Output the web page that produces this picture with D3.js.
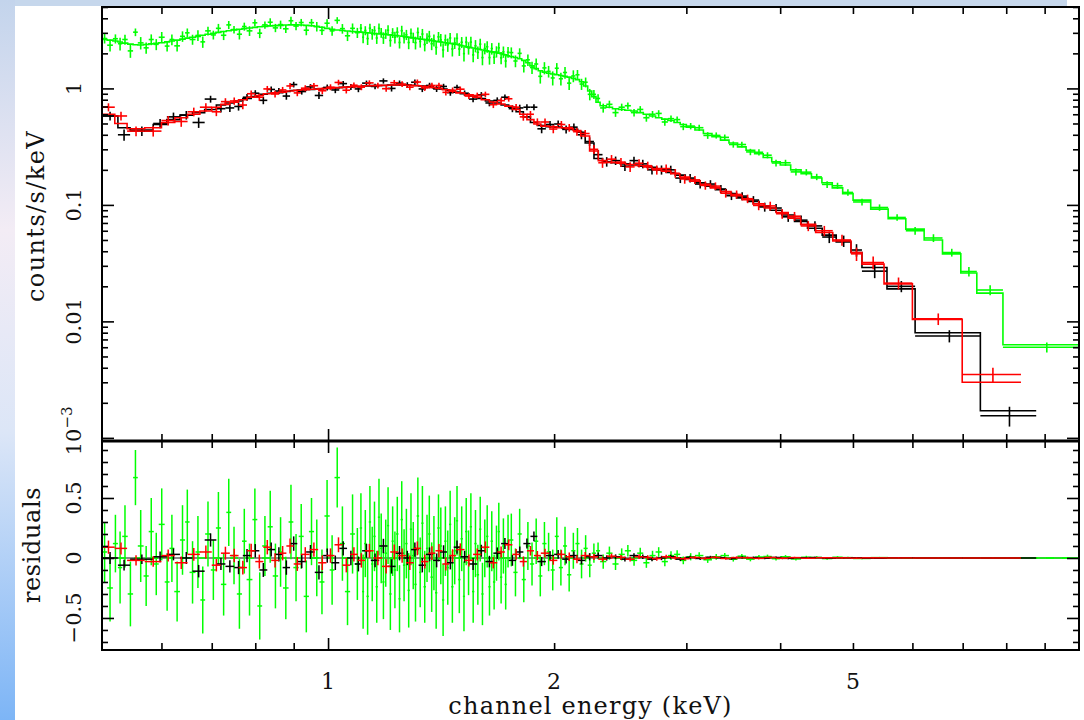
<!DOCTYPE html>
<html>
<head>
<meta charset="utf-8">
<script src="https://cdn.jsdelivr.net/npm/d3@7"></script>
<style>
  body { margin: 0; background: #fff; }
  svg text { font-family: 'DejaVu Serif', serif; fill: #111; }
</style>
</head>
<body>
<script>
// bin edges in keV, model in counts/s/keV, residual (data - model) and 1-sigma error
const blackEdges = [0.500, 0.525, 0.545, 0.585, 0.610, 0.635, 0.660, 0.685, 0.710, 0.730,
  0.750, 0.770, 0.790, 0.810, 0.830, 0.850, 0.870, 0.890, 0.910, 0.935,
  0.960, 0.985, 1.010, 1.035, 1.060, 1.085, 1.110, 1.140, 1.170, 1.200,
  1.230, 1.260, 1.290, 1.320, 1.350, 1.380, 1.410, 1.440, 1.470, 1.500,
  1.540, 1.580, 1.620, 1.660, 1.700, 1.740, 1.780, 1.820, 1.860, 1.900,
  1.950, 2.000, 2.050, 2.100, 2.150, 2.200, 2.260, 2.320, 2.380, 2.450,
  2.520, 2.590, 2.660, 2.740, 2.820, 2.900, 2.990, 3.080, 3.180, 3.280,
  3.390, 3.500, 3.620, 3.750, 3.880, 4.020, 4.180, 4.350, 4.550, 4.750,
  4.970, 5.140, 5.550, 6.050, 7.390, 8.770];
const blackModel = [0.58, 0.46, 0.44, 0.49, 0.54, 0.59, 0.62, 0.66, 0.72, 0.75,
  0.78, 0.82, 0.85, 0.89, 0.91, 0.92, 0.94, 0.96, 0.97, 0.98,
  0.99, 1.00, 1.01, 1.02, 1.03, 1.04, 1.05, 1.06, 1.06, 1.07,
  1.07, 1.07, 1.06, 1.05, 1.03, 1.01, 0.99, 0.96, 0.93, 0.90,
  0.86, 0.82, 0.78, 0.75, 0.72, 0.69, 0.63, 0.57, 0.51, 0.48,
  0.47, 0.465, 0.455, 0.445, 0.42, 0.34, 0.25, 0.235, 0.23, 0.225,
  0.22, 0.215, 0.21, 0.20, 0.19, 0.18, 0.165, 0.155, 0.145, 0.135,
  0.125, 0.115, 0.107, 0.098, 0.090, 0.082, 0.072, 0.063, 0.055, 0.048,
  0.039, 0.029, 0.019, 0.0080, 0.00171];
const blackResid = [0.00, -0.06, -0.01, 0.01, 0.03, 0.00, -0.11, 0.15, -0.05, -0.07,
  -0.08, 0.02, 0.06, -0.10, 0.07, 0.03, -0.08, 0.12, -0.03, 0.05,
  -0.12, 0.02, -0.04, 0.08, 0.00, -0.05, 0.06, -0.02, 0.10, -0.07,
  0.04, 0.00, 0.07, -0.06, 0.03, -0.02, 0.05, -0.04, 0.09, 0.01,
  -0.05, 0.06, -0.03, 0.04, 0.12, -0.02, 0.05, 0.12, 0.18, -0.03,
  0.02, 0.03, -0.01, 0.02, -0.02, 0.01, 0.02, 0.00, 0.01, -0.01,
  0.02, 0.01, -0.01, 0.00, 0.01, -0.01, 0.005, -0.004, 0.006, 0.002,
  -0.005, 0.004, 0.003, -0.002, 0.004, -0.003, 0.002, 0.003, -0.002, 0.001,
  0.002, -0.002, 0.001, -0.0005, -0.00016];
const blackErr = [0.05, 0.045, 0.04, 0.045, 0.05, 0.05, 0.052, 0.055, 0.05, 0.052,
  0.055, 0.055, 0.056, 0.058, 0.058, 0.06, 0.06, 0.06, 0.055, 0.058,
  0.06, 0.06, 0.06, 0.06, 0.06, 0.062, 0.058, 0.058, 0.06, 0.06,
  0.06, 0.06, 0.06, 0.06, 0.058, 0.058, 0.056, 0.055, 0.055, 0.05,
  0.05, 0.05, 0.048, 0.048, 0.046, 0.045, 0.045, 0.042, 0.04, 0.038,
  0.036, 0.036, 0.035, 0.035, 0.034, 0.03, 0.025, 0.022, 0.02, 0.02,
  0.019, 0.019, 0.018, 0.018, 0.017, 0.016, 0.014, 0.013, 0.012, 0.011,
  0.01, 0.0095, 0.009, 0.0085, 0.008, 0.0075, 0.007, 0.0065, 0.006, 0.0055,
  0.005, 0.0035, 0.0022, 0.0009, 0.0003];

const redEdges = [0.500, 0.520, 0.540, 0.570, 0.600, 0.625, 0.650, 0.675, 0.700, 0.720,
  0.740, 0.760, 0.780, 0.800, 0.820, 0.840, 0.860, 0.880, 0.900, 0.920,
  0.945, 0.970, 0.995, 1.020, 1.045, 1.070, 1.095, 1.120, 1.150, 1.180,
  1.210, 1.240, 1.270, 1.300, 1.330, 1.360, 1.390, 1.420, 1.450, 1.480,
  1.520, 1.560, 1.600, 1.640, 1.680, 1.720, 1.760, 1.800, 1.840, 1.880,
  1.920, 1.970, 2.020, 2.070, 2.120, 2.170, 2.230, 2.290, 2.350, 2.420,
  2.490, 2.560, 2.630, 2.700, 2.780, 2.860, 2.940, 3.030, 3.130, 3.230,
  3.330, 3.440, 3.560, 3.680, 3.810, 3.950, 4.100, 4.260, 4.460, 4.700,
  4.970, 5.140, 5.500, 6.000, 6.990, 8.370];
const redModel = [0.60, 0.50, 0.45, 0.46, 0.51, 0.56, 0.60, 0.64, 0.69, 0.73,
  0.76, 0.80, 0.84, 0.87, 0.90, 0.915, 0.93, 0.95, 0.965, 0.975,
  0.985, 0.995, 1.005, 1.015, 1.025, 1.035, 1.045, 1.055, 1.06, 1.065,
  1.07, 1.07, 1.065, 1.055, 1.04, 1.02, 1.00, 0.975, 0.945, 0.915,
  0.88, 0.84, 0.80, 0.765, 0.735, 0.705, 0.66, 0.60, 0.54, 0.495,
  0.475, 0.468, 0.46, 0.45, 0.435, 0.39, 0.29, 0.24, 0.232, 0.228,
  0.222, 0.218, 0.212, 0.205, 0.195, 0.185, 0.173, 0.16, 0.15, 0.14,
  0.13, 0.12, 0.111, 0.102, 0.094, 0.086, 0.077, 0.068, 0.058, 0.049,
  0.039, 0.031, 0.021, 0.0104, 0.0030];
const redResid = [0.09, 0.08, -0.02, -0.03, 0.02, -0.04, 0.03, 0.05, -0.06, 0.04,
  0.02, -0.08, 0.06, -0.03, 0.09, -0.02, 0.04, 0.10, -0.05, 0.03,
  0.07, -0.04, 0.02, 0.11, -0.06, 0.03, -0.02, 0.06, 0.00, -0.07,
  0.05, 0.02, -0.04, 0.08, -0.03, 0.04, 0.06, -0.05, 0.02, 0.07,
  -0.02, 0.03, 0.09, -0.04, 0.05, 0.11, 0.03, -0.03, 0.06, 0.02,
  0.04, -0.02, 0.03, 0.01, -0.01, 0.02, 0.01, -0.01, 0.015, 0.005,
  -0.01, 0.01, 0.005, -0.005, 0.01, 0.002, -0.006, 0.004, -0.003, 0.005,
  -0.004, 0.003, 0.002, -0.003, 0.004, -0.002, 0.003, -0.002, 0.002, 0.001,
  -0.001, 0.001, 0.0003, 0.0001, 0.0005];
const redErr = [0.055, 0.05, 0.042, 0.044, 0.05, 0.052, 0.054, 0.055, 0.052, 0.054,
  0.056, 0.057, 0.058, 0.058, 0.06, 0.06, 0.06, 0.062, 0.058, 0.06,
  0.06, 0.062, 0.06, 0.062, 0.06, 0.06, 0.06, 0.058, 0.06, 0.06,
  0.062, 0.06, 0.06, 0.058, 0.058, 0.057, 0.056, 0.055, 0.053, 0.052,
  0.05, 0.05, 0.048, 0.047, 0.046, 0.045, 0.044, 0.042, 0.04, 0.038,
  0.036, 0.036, 0.035, 0.035, 0.033, 0.03, 0.026, 0.022, 0.021, 0.02,
  0.02, 0.019, 0.018, 0.018, 0.017, 0.016, 0.015, 0.013, 0.012, 0.011,
  0.0105, 0.01, 0.0095, 0.009, 0.0085, 0.008, 0.007, 0.0065, 0.006, 0.0055,
  0.005, 0.004, 0.0025, 0.0012, 0.0005];

const greenEdges = [0.500, 0.508, 0.517, 0.525, 0.532, 0.541, 0.550, 0.558, 0.568, 0.577,
  0.586, 0.595, 0.606, 0.615, 0.624, 0.635, 0.645, 0.654, 0.666, 0.676,
  0.686, 0.698, 0.709, 0.720, 0.732, 0.743, 0.756, 0.768, 0.779, 0.793,
  0.805, 0.817, 0.831, 0.844, 0.858, 0.871, 0.886, 0.899, 0.914, 0.928,
  0.943, 0.958, 0.974, 0.989, 1.005, 1.020, 1.037, 1.053, 1.070, 1.086,
  1.102, 1.110, 1.117, 1.125, 1.133, 1.141, 1.149, 1.157, 1.165, 1.173,
  1.181, 1.189, 1.198, 1.206, 1.215, 1.223, 1.232, 1.241, 1.249, 1.258,
  1.267, 1.276, 1.285, 1.294, 1.303, 1.312, 1.322, 1.331, 1.340, 1.350,
  1.359, 1.369, 1.379, 1.388, 1.398, 1.408, 1.418, 1.428, 1.438, 1.449,
  1.459, 1.469, 1.480, 1.490, 1.501, 1.512, 1.522, 1.533, 1.544, 1.555,
  1.566, 1.577, 1.589, 1.600, 1.611, 1.623, 1.635, 1.646, 1.658, 1.670,
  1.682, 1.694, 1.706, 1.718, 1.730, 1.743, 1.765, 1.788, 1.811, 1.834,
  1.857, 1.881, 1.905, 1.929, 1.954, 1.979, 2.004, 2.029, 2.055, 2.081,
  2.108, 2.135, 2.162, 2.189, 2.217, 2.245, 2.274, 2.303, 2.347, 2.392,
  2.437, 2.484, 2.531, 2.580, 2.629, 2.679, 2.730, 2.782, 2.835, 2.889,
  2.944, 3.000, 3.080, 3.161, 3.245, 3.331, 3.419, 3.510, 3.603, 3.699,
  3.797, 3.898, 4.001, 4.131, 4.265, 4.403, 4.546, 4.693, 4.845, 5.002,
  5.28, 5.57, 5.88, 6.22, 6.58, 6.96, 7.31, 7.92, 10.2];
const greenModel = [2.63, 2.60, 2.55, 2.50, 2.45, 2.40, 2.37, 2.36, 2.38, 2.41,
  2.44, 2.47, 2.51, 2.55, 2.60, 2.65, 2.70, 2.75, 2.80, 2.86,
  2.92, 2.98, 3.03, 3.08, 3.13, 3.18, 3.22, 3.26, 3.30, 3.34,
  3.38, 3.41, 3.44, 3.46, 3.48, 3.50, 3.51, 3.51, 3.50, 3.48,
  3.45, 3.40, 3.35, 3.28, 3.22, 3.17, 3.14, 3.11, 3.08, 3.06,
  3.04, 3.03, 3.02, 3.00, 2.99, 2.98, 2.96, 2.95, 2.94, 2.93,
  2.92, 2.90, 2.89, 2.88, 2.86, 2.85, 2.84, 2.82, 2.81, 2.79,
  2.77, 2.75, 2.73, 2.71, 2.69, 2.67, 2.65, 2.64, 2.62, 2.61,
  2.60, 2.58, 2.56, 2.54, 2.52, 2.51, 2.49, 2.47, 2.45, 2.43,
  2.42, 2.40, 2.38, 2.36, 2.33, 2.31, 2.28, 2.26, 2.24, 2.22,
  2.20, 2.18, 2.16, 2.14, 2.12, 2.10, 2.08, 2.06, 2.05, 2.03,
  2.01, 1.99, 1.96, 1.94, 1.91, 1.88, 1.84, 1.80, 1.74, 1.66,
  1.56, 1.48, 1.42, 1.38, 1.35, 1.33, 1.31, 1.29, 1.27, 1.25,
  1.22, 1.19, 1.14, 1.05, 0.95, 0.85, 0.76, 0.71, 0.69, 0.67,
  0.66, 0.65, 0.64, 0.62, 0.60, 0.58, 0.56, 0.545, 0.53, 0.51,
  0.49, 0.465, 0.44, 0.41, 0.385, 0.36, 0.34, 0.315, 0.295, 0.275,
  0.255, 0.235, 0.22, 0.20, 0.185, 0.17, 0.155, 0.14, 0.125, 0.110,
  0.092, 0.076, 0.062, 0.050, 0.038, 0.026, 0.0175, 0.0063];
const greenResid = [0.05, -0.25, 0.12, -0.08, 0.18, -0.30, 0.67, 0.10, -0.15, 0.22,
  -0.05, 0.28, -0.20, 0.08, -0.28, 0.15, 0.30, -0.12, 0.05, -0.35,
  0.20, -0.10, 0.25, -0.22, 0.38, 0.02, -0.30, 0.14, -0.18, 0.32,
  -0.40, 0.10, 0.26, -0.15, 0.05, -0.25, 0.30, -0.08, 0.18, -0.32,
  0.22, 0.00, -0.20, 0.35, -0.10, 0.67, 0.12, -0.28, 0.20, -0.05,
  0.25, -0.28, 0.12, -0.32, 0.30, -0.05, 0.18, -0.24, 0.34, 0.08,
  -0.20, 0.04, 0.27, -0.30, 0.14, -0.10, 0.20, -0.34, 0.32, -0.06,
  0.12, -0.27, 0.24, 0.02, -0.22, 0.35, -0.12, 0.29, -0.24, 0.08,
  0.20, -0.16, 0.04, -0.29, 0.25, 0.10, -0.35, 0.14, -0.08, 0.28,
  -0.24, 0.06, 0.31, -0.18, 0.16, -0.32, 0.22, -0.04, 0.26, -0.28,
  0.12, -0.14, 0.24, -0.30, 0.08, 0.18, -0.24, 0.14, -0.20, 0.04,
  0.22, -0.16, 0.10, -0.22, 0.14, 0.15, -0.12, 0.20, -0.18, 0.10,
  -0.05, 0.14, -0.15, 0.12, 0.05, -0.10, 0.18, -0.08, 0.10, -0.14,
  0.06, 0.12, -0.05, 0.08, -0.06, 0.04, 0.06, -0.03, 0.04, -0.05,
  0.03, 0.06, -0.02, 0.04, -0.04, 0.02, 0.05, -0.03, 0.02, 0.03,
  -0.02, 0.01, 0.02, -0.015, 0.01, 0.02, -0.01, 0.015, -0.01, 0.008,
  0.012, -0.006, 0.01, -0.008, 0.006, 0.004, -0.005, 0.006, 0.003, -0.004,
  0.003, 0.002, -0.002, 0.002, 0.001, 0.0008, 0.0011, -0.0003];
const greenErr = [0.25, 0.28, 0.24, 0.30, 0.26, 0.27, 0.23, 0.30, 0.25, 0.28,
  0.26, 0.30, 0.24, 0.28, 0.25, 0.29, 0.27, 0.26, 0.30, 0.28,
  0.27, 0.25, 0.30, 0.26, 0.28, 0.24, 0.29, 0.27, 0.30, 0.26,
  0.28, 0.25, 0.30, 0.27, 0.29, 0.26, 0.31, 0.28, 0.27, 0.30,
  0.28, 0.32, 0.27, 0.30, 0.29, 0.25, 0.31, 0.28, 0.33, 0.30,
  0.29, 0.31, 0.28, 0.32, 0.30, 0.31, 0.29, 0.30, 0.32, 0.29,
  0.31, 0.28, 0.32, 0.30, 0.29, 0.32, 0.31, 0.28, 0.32, 0.30,
  0.29, 0.31, 0.30, 0.28, 0.31, 0.32, 0.29, 0.31, 0.30, 0.28,
  0.32, 0.29, 0.31, 0.30, 0.28, 0.32, 0.30, 0.29, 0.31, 0.28,
  0.30, 0.28, 0.29, 0.28, 0.27, 0.29, 0.28, 0.27, 0.28, 0.26,
  0.28, 0.25, 0.27, 0.26, 0.24, 0.26, 0.24, 0.25, 0.23, 0.23,
  0.24, 0.22, 0.23, 0.21, 0.22, 0.22, 0.20, 0.21, 0.19, 0.20,
  0.18, 0.19, 0.17, 0.18, 0.16, 0.17, 0.16, 0.15, 0.16, 0.14,
  0.15, 0.13, 0.12, 0.11, 0.10, 0.08, 0.07, 0.06, 0.055, 0.05,
  0.05, 0.048, 0.045, 0.045, 0.042, 0.04, 0.04, 0.038, 0.036, 0.034,
  0.032, 0.03, 0.028, 0.026, 0.024, 0.022, 0.02, 0.019, 0.018, 0.017,
  0.016, 0.015, 0.014, 0.013, 0.012, 0.011, 0.01, 0.009, 0.008, 0.007,
  0.006, 0.005, 0.0045, 0.004, 0.003, 0.0025, 0.0018, 0.0006];

const xTickLabels = [1, 2, 5];
const yTopLabels = [1, 0.1, 0.01];
const yResLabels = [0.5, 0, -0.5];

document.addEventListener('DOMContentLoaded', () => {
  drawSpectrum();
});

const makeBins = (edges, model, resid, err) => model.map((m, i) => ({
  lo: edges[i],
  hi: edges[i + 1],
  mid: (edges[i] + edges[i + 1]) / 2,
  model: m,
  resid: resid[i],
  err: err[i],
  rate: m + resid[i]
}));

const drawSpectrum = () => {
  const width = 1084, height = 720;
  const frame = {left: 102, right: 1079, top: 7, mid: 441, bottom: 650};

  const svg = d3.select('body')
    .append('svg')
    .attr('width', width)
    .attr('height', height);

  // slide backdrop: a strip down the left and one along the top
  const defs = svg.append('defs');
  const grad = defs.append('linearGradient')
    .attr('id', 'side')
    .attr('x1', 0).attr('y1', 0).attr('x2', 0).attr('y2', 1);
  [[0, '#c3d4ec'], [0.32, '#f3ecf5'], [0.6, '#dce6f7'], [1, '#7db5f6']]
    .forEach(([o, c]) => grad.append('stop').attr('offset', o).attr('stop-color', c));
  svg.append('rect').attr('x', 0).attr('y', 0).attr('width', 15).attr('height', height)
    .attr('fill', 'url(#side)');
  svg.append('rect').attr('x', 15).attr('y', 0).attr('width', 1052).attr('height', 6)
    .attr('fill', '#c6d7ec');

  defs.append('clipPath').attr('id', 'clipTop').append('rect')
    .attr('x', frame.left).attr('y', frame.top)
    .attr('width', frame.right - frame.left).attr('height', frame.mid - frame.top);
  defs.append('clipPath').attr('id', 'clipRes').append('rect')
    .attr('x', frame.left).attr('y', frame.mid)
    .attr('width', frame.right - frame.left).attr('height', frame.bottom - frame.mid);

  const x = d3.scaleLog().domain([0.5, 10]).range([frame.left, frame.right]);
  const yTop = d3.scaleLog().domain([0.00094, 5]).range([frame.mid, frame.top]);
  const yRes = d3.scaleLinear().domain([-0.767, 0.975]).range([frame.bottom, frame.mid]);

  const sets = [
    {color: '#000000', bins: makeBins(blackEdges, blackModel, blackResid, blackErr)},
    {color: '#ff0000', bins: makeBins(redEdges, redModel, redResid, redErr)},
    {color: '#00ff00', bins: makeBins(greenEdges, greenModel, greenResid, greenErr)}
  ];

  const topLayer = svg.append('g').attr('clip-path', 'url(#clipTop)');
  const resLayer = svg.append('g').attr('clip-path', 'url(#clipRes)');

  const stepLine = d3.line().x(d => x(d[0])).y(d => yTop(d[1]));

  sets.forEach(set => {
    const g = topLayer.append('g').attr('stroke', set.color).attr('stroke-width', 1.6).attr('fill', 'none');
    // model histogram
    const steps = set.bins.flatMap(b => [[b.lo, b.model], [b.hi, b.model]]);
    g.append('path').attr('d', stepLine(steps));
    // data crosses
    g.selectAll('line.h').data(set.bins).enter().append('line')
      .attr('x1', d => x(d.lo)).attr('x2', d => x(d.hi))
      .attr('y1', d => yTop(d.rate)).attr('y2', d => yTop(d.rate));
    g.selectAll('line.v').data(set.bins).enter().append('line')
      .attr('x1', d => x(d.mid)).attr('x2', d => x(d.mid))
      .attr('y1', d => yTop(d.rate + d.err))
      .attr('y2', d => yTop(Math.max(d.rate - d.err, 0.0005)));
  });

  // residual zero line
  resLayer.append('line')
    .attr('x1', frame.left).attr('x2', frame.right)
    .attr('y1', yRes(0)).attr('y2', yRes(0))
    .attr('stroke', '#666').attr('stroke-width', 1.6);
  resLayer.append('line')
    .attr('x1', frame.left).attr('x2', frame.right)
    .attr('y1', yRes(0)).attr('y2', yRes(0))
    .attr('stroke', '#00ff00').attr('stroke-width', 1.6)
    .attr('stroke-dasharray', '8,8');

  [sets[2], sets[0], sets[1]].forEach(set => {
    const g = resLayer.append('g').attr('stroke', set.color).attr('stroke-width', 1.5);
    g.selectAll('line.h').data(set.bins).enter().append('line')
      .attr('x1', d => x(d.lo)).attr('x2', d => x(d.hi))
      .attr('y1', d => yRes(d.resid)).attr('y2', d => yRes(d.resid));
    g.selectAll('line.v').data(set.bins).enter().append('line')
      .attr('x1', d => x(d.mid)).attr('x2', d => x(d.mid))
      .attr('y1', d => yRes(d.resid + d.err)).attr('y2', d => yRes(d.resid - d.err));
  });

  // frames
  svg.append('rect')
    .attr('x', frame.left).attr('y', frame.top)
    .attr('width', frame.right - frame.left).attr('height', frame.bottom - frame.top)
    .attr('fill', 'none').attr('stroke', '#000').attr('stroke-width', 2);
  svg.append('line')
    .attr('x1', frame.left).attr('x2', frame.right)
    .attr('y1', frame.mid).attr('y2', frame.mid)
    .attr('stroke', '#000').attr('stroke-width', 3);

  // ticks, all pointing inward
  const tickRow = (axisFn, scale, values, size, transform) => {
    svg.append('g')
      .attr('transform', transform)
      .call(axisFn(scale).tickValues(values).tickSize(size).tickSizeOuter(0).tickFormat(''))
      .call(g => g.select('.domain').remove())
      .call(g => g.selectAll('line').attr('stroke', '#000').attr('stroke-width', 1.6));
  };

  const isDecade = v => Math.abs(Math.log10(v) - Math.round(Math.log10(v))) < 1e-6;
  const xAll = x.ticks().filter(v => v > 0.5 && v < 10);
  const xMajor = xAll.filter(isDecade);
  const xMinor = xAll.filter(v => !isDecade(v));
  const yAll = yTop.ticks();
  const yMajor = yAll.filter(isDecade);
  const yMinor = yAll.filter(v => !isDecade(v));
  const rAll = yRes.ticks(20);
  const rMajor = rAll.filter(v => Math.abs(v * 2 - Math.round(v * 2)) < 1e-6);
  const rMinor = rAll.filter(v => Math.abs(v * 2 - Math.round(v * 2)) >= 1e-6);

  [[xMajor, 12], [xMinor, 7]].forEach(([vals, len]) => {
    tickRow(d3.axisBottom, x, vals, len, `translate(0,${frame.top})`);
    tickRow(d3.axisTop, x, vals, len, `translate(0,${frame.mid})`);
    tickRow(d3.axisBottom, x, vals, len, `translate(0,${frame.mid})`);
    tickRow(d3.axisTop, x, vals, len, `translate(0,${frame.bottom})`);
  });
  [[yMajor, 12], [yMinor, 6]].forEach(([vals, len]) => {
    tickRow(d3.axisRight, yTop, vals, len, `translate(${frame.left},0)`);
    tickRow(d3.axisLeft, yTop, vals, len, `translate(${frame.right},0)`);
  });
  [[rMajor, 12], [rMinor, 6]].forEach(([vals, len]) => {
    tickRow(d3.axisRight, yRes, vals, len, `translate(${frame.left},0)`);
    tickRow(d3.axisLeft, yRes, vals, len, `translate(${frame.right},0)`);
  });

  // tick labels
  const labelSize = 21;
  svg.append('g').selectAll('text').data(xTickLabels).enter().append('text')
    .attr('x', d => x(d)).attr('y', 689)
    .attr('text-anchor', 'middle').attr('font-size', 22)
    .text(d => d);

  const sideLabel = (y, txt, size) => svg.append('text')
    .attr('transform', `translate(81,${y}) rotate(-90)`)
    .attr('text-anchor', 'middle').attr('font-size', size)
    .text(txt);

  yTopLabels.forEach(v => sideLabel(yTop(v), v, labelSize));
  yResLabels.forEach(v => sideLabel(yRes(v), v < 0 ? '\u2212' + Math.abs(v) : v, labelSize));

  const expLabel = svg.append('text')
    .attr('transform', `translate(81,${yTop(0.001) - 7}) rotate(-90)`)
    .attr('text-anchor', 'middle').attr('font-size', labelSize);
  expLabel.append('tspan').text('10');
  expLabel.append('tspan').attr('dy', -9).attr('font-size', 15).text('\u22123');

  // axis titles
  svg.append('text')
    .attr('x', (frame.left + frame.right) / 2).attr('y', 714)
    .attr('text-anchor', 'middle').attr('font-size', 24)
    .attr('letter-spacing', 1.2)
    .text('channel energy (keV)');
  svg.append('text')
    .attr('transform', `translate(44,216) rotate(-90)`)
    .attr('text-anchor', 'middle').attr('font-size', 24)
    .attr('letter-spacing', 1.4)
    .text('counts/s/keV');
  svg.append('text')
    .attr('transform', `translate(40,545) rotate(-90)`)
    .attr('text-anchor', 'middle').attr('font-size', 24)
    .attr('letter-spacing', 0.6)
    .text('residuals');
};
</script>
</body>
</html>
